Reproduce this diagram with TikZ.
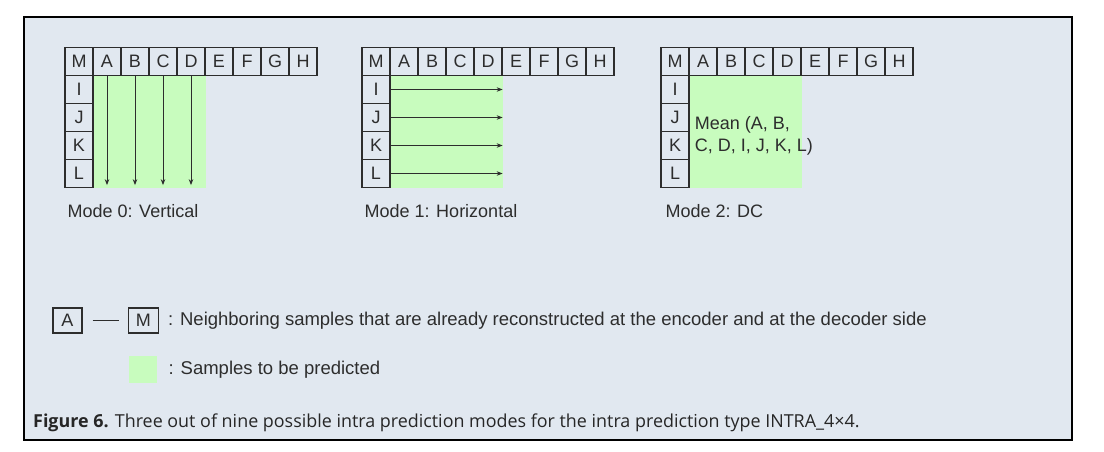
\documentclass[tikz,border=0pt]{standalone}
\usepackage{fontspec}
\setmainfont{Liberation Sans}
\newfontfamily\capfont{Open Sans}
\usetikzlibrary{arrows.meta,positioning,backgrounds}
\definecolor{panelbg}{RGB}{225,232,240}
\definecolor{predgreen}{RGB}{200,252,190}
\definecolor{inkgray}{RGB}{45,45,45}
\tikzset{
  cell/.style={draw=inkgray, line width=1.3pt, minimum width=28pt, minimum height=28pt,
    inner sep=0pt, text=inkgray, font=\fontsize{18}{20}\selectfont},
  modelabel/.style={anchor=west, inner sep=0pt, text=inkgray, font=\fontsize{18}{20}\selectfont},
  legendtext/.style={inner sep=0pt, text=inkgray, font=\fontsize{18.5}{20}\selectfont},
  predarrow/.style={->, line width=1pt, draw=inkgray}
}
\begin{document}
\begin{tikzpicture}[x=1pt,y=-1pt,>={Stealth[length=6pt,width=4.5pt]}]
  \useasboundingbox (0,0) rectangle (1104,452);
  \begin{scope}[on background layer]
    \draw[line width=2.5pt, fill=panelbg] (24,17) rectangle (1072,440);
  \end{scope}
  % the three 4x4 blocks with their neighbours
  \foreach \ox/\nm in {65/v,362/h,661/dc} {
    \foreach \lt [count=\i from 0] in {M,A,B,C,D,E,F,G,H}
      \node[cell] (\nm-\lt) at (\ox+14+28*\i, 61.5) {\lt};
    \foreach \lt [count=\j from 1] in {I,J,K,L}
      \node[cell] (\nm-\lt) at (\ox+14, 61.5+28*\j) {\lt};
    \begin{scope}[on background layer]
      \fill[predgreen] (\nm-I.north east) rectangle (\nm-D.east |- \nm-L.south);
    \end{scope}
  }
  % mode 0
  \foreach \lt in {A,B,C,D}
    \draw[predarrow] (v-\lt.south) -- ([yshift=3pt]v-\lt.south |- v-L.south);
  \node[modelabel] (v-name) at ([xshift=3pt,yshift=-22.5pt]v-L.south west) {Mode 0: Vertical};
  % mode 1
  \foreach \lt in {I,J,K,L}
    \draw[predarrow] (h-\lt.east) -- (h-D.east |- h-\lt);
  \node[modelabel] (h-name) at ([xshift=3pt,yshift=-22.5pt]h-L.south west) {Mode 1: Horizontal};
  % mode 2
  \node[legendtext, anchor=west, align=left, font=\fontsize{18}{22}\selectfont] (dc-mean)
    at ([xshift=5pt,yshift=-4pt]dc-J.south east) {Mean (A, B,\\C, D, I, J, K, L)};
  \node[modelabel] (dc-name) at ([xshift=5pt,yshift=-22.5pt]dc-L.south west) {Mode 2: DC};
  % legend
  \node[cell, minimum width=29pt, minimum height=25pt] (key-A) at (67.5,320.5) {A};
  \node[cell, minimum width=30pt, minimum height=25pt, right=45pt of key-A] (key-M) {M};
  \draw[inkgray, line width=1.3pt, shorten <=10pt, shorten >=9pt] (key-A) -- (key-M);
  \node[legendtext, right=9pt of key-M] (key-recon)
    {: Neighboring samples that are already reconstructed at the encoder and at the decoder side};
  \node[fill=predgreen, minimum width=28pt, minimum height=27pt, inner sep=0pt, below=22pt of key-M] (key-green) {};
  \node[legendtext, right=11pt of key-green] (key-pred) {: Samples to be predicted};
  % caption
  \node[anchor=west, inner sep=0pt, text=black!85, font=\capfont\fontsize{17.9}{19}\selectfont] (caption)
    at (33,423) {\textbf{Figure 6.} Three out of nine possible intra prediction modes for the intra prediction type INTRA\_4×4.};
\end{tikzpicture}
\end{document}
